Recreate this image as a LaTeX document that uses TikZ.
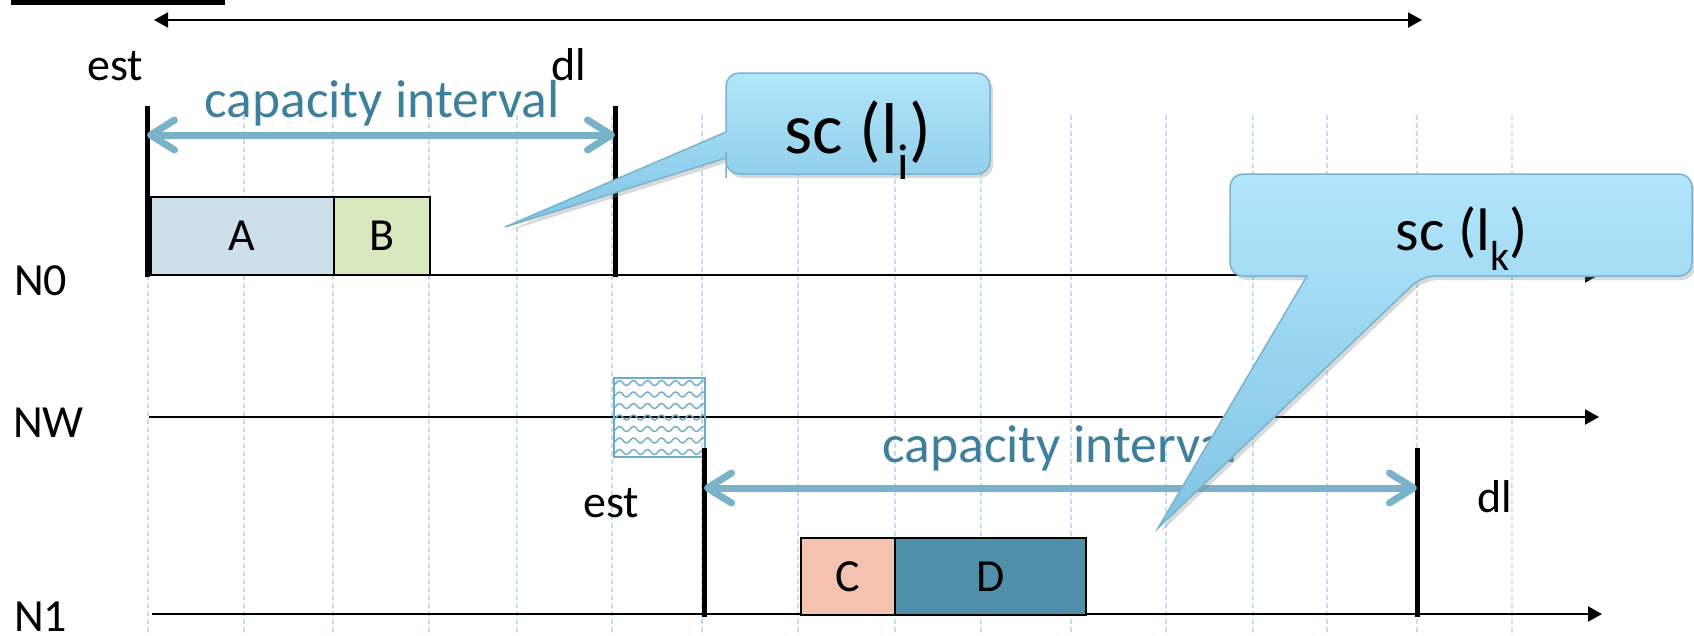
\documentclass[tikz,border=0pt]{standalone}
\usepackage{fontspec}
\setmainfont{Carlito}
\usepackage{tikz}
\usetikzlibrary{arrows.meta, shadows}
\definecolor{CapBlue}{RGB}{120,179,201}
\definecolor{CapText}{RGB}{62,128,156}
\definecolor{GridBlue}{RGB}{189,225,248}
\definecolor{CallTop}{RGB}{178,230,252}
\definecolor{CallBot}{RGB}{128,196,226}
\definecolor{CallEdge}{RGB}{120,180,204}
\definecolor{WaveBlue}{RGB}{110,172,198}
\definecolor{BoxA}{RGB}{205,224,234}
\definecolor{BoxB}{RGB}{216,232,190}
\definecolor{BoxC}{RGB}{244,194,174}
\definecolor{BoxD}{RGB}{80,143,170}

\begin{document}
\begin{tikzpicture}[x=1pt, y=-1pt,
	lbl/.style={inner sep=0pt, anchor=base, font=\fontsize{46}{50}\selectfont},
	captext/.style={inner sep=0pt, anchor=base, text=CapText, font=\fontsize{53.5}{58}\selectfont},
	gridline/.style={GridBlue, line width=1.3pt, dash pattern=on 5pt off 3pt},
	timeline/.style={line width=2pt, -{Triangle[length=14pt,width=15pt]}},
	limbar/.style={line width=5pt},
	caparrow/.style={CapBlue, line width=7pt, {Straight Barb[length=24pt,width=30pt,round]}-{Straight Barb[length=24pt,width=30pt,round]}},
	task/.style={draw=black, line width=1.5pt, inner sep=0pt, anchor=north west, font=\fontsize{46}{50}\selectfont},
	bubble/.style={draw=CallEdge, line width=1.5pt, top color=CallTop, bottom color=CallBot, drop shadow={opacity=0.3, shadow xshift=3pt, shadow yshift=-4pt}},
	bubbletext/.style={inner sep=0pt, anchor=base}
	]
	\useasboundingbox (0,0) rectangle (1694,635);
	
	% 网格线
	\foreach \gx in {148,244,333,429,517,612,702,798,895,981,1071,1166,1253,1327,1417,1512}
		\draw[gridline] (\gx,115) -- (\gx,635);
	
	% 顶部
	\fill (11,0) rectangle (225,5);
	\coordinate (TL) at (154,20);
	\coordinate (TR) at (1422,20);
	\draw[line width=2pt, {Triangle[length=14pt,width=15pt]}-{Triangle[length=14pt,width=15pt]}] (TL) -- (TR);
	
	% 时间轴
	\coordinate (N0s) at (147,275);
	\coordinate (N0e) at (1599,275);
	\coordinate (NWs) at (149,417);
	\coordinate (NWe) at (1599,417);
	\coordinate (N1s) at (152,614);
	\coordinate (N1e) at (1602,614);
	\draw[timeline] (N0s) -- (N0e);
	\draw[timeline] (NWs) -- (NWe);
	\draw[timeline] (N1s) -- (N1e);
	
	\node[lbl, anchor=base west] (n0) at (14,295) {N0};
	\node[lbl, anchor=base west] (nw) at (13,437) {NW};
	\node[lbl, anchor=base west] (n1) at (14,631) {N1};
	
	% 任务
	\node[task, fill=BoxA, minimum width=183pt, minimum height=78pt] (A) at (150,196) {A};
	\node[task, fill=BoxB, minimum width=96pt, minimum height=78pt] (B) at (333,196) {B};
	\node[task, fill=BoxC, minimum width=94pt, minimum height=77pt] (C) at (800,537) {C};
	\node[task, fill=BoxD, minimum width=191pt, minimum height=77pt] (D) at (894,537) {D};
	
	% 网络占用
	\begin{scope}
		\clip (614,378) rectangle (705,457);
		\foreach \r in {0,...,6}
			\draw[WaveBlue, line width=1.4pt] plot[domain=-5:95, samples=80, smooth] ({609+\x}, {383+\r*11.5+2.5*sin(\x*25.714)});
	\end{scope}
	\draw[WaveBlue, line width=1.3pt] (614,378) rectangle (705,457);
	
	% est 和 dl
	\coordinate (E0a) at (147,106);
	\coordinate (E0b) at (147,277);
	\coordinate (D0a) at (615,106);
	\coordinate (D0b) at (615,277);
	\coordinate (E1a) at (704,448);
	\coordinate (E1b) at (704,617);
	\coordinate (D1a) at (1417,448);
	\coordinate (D1b) at (1417,617);
	\draw[limbar] (E0a) -- (E0b);
	\draw[limbar] (D0a) -- (D0b);
	\draw[limbar] (E1a) -- (E1b);
	\draw[limbar] (D1a) -- (D1b);
	
	\node[lbl] (est0) at (115,80) {est};
	\node[lbl] (dl0) at (569,80) {dl};
	\node[lbl] (est1) at (611,517) {est};
	\node[lbl] (dl1) at (1495,512) {dl};
	
	% capacity interval
	\coordinate (C0a) at (147,135);
	\coordinate (C0b) at (615,135);
	\coordinate (C1a) at (704,488);
	\coordinate (C1b) at (1417,488);
	\draw[caparrow] (C0a) -- (C0b);
	\draw[caparrow] (C1a) -- (C1b);
	\node[captext] (ci0) at (382,117) {capacity interval};
	\node[captext] (ci1) at (1060,462) {capacity interval};
	
	% 标注框
	\draw[bubble, rounded corners=13pt] (726,110) |- (990,73) |- (726,174) -- (726,165) [sharp corners] -- (726,158) -- (505,227) -- (726,132) -- (726,120) -- cycle;
	\node[bubbletext, font=\fontsize{72}{76}\selectfont] (sci) at (858,153) {sc (l\textsubscript{i})};
	
	\draw[bubble, rounded corners=13pt] (1230,225) |- (1692,174) |- (1422,276) [sharp corners] -- (1158,528) -- (1307,276) -- (1250,276) [rounded corners=13pt] -- (1230,276) -- (1230,225) -- cycle;
	\node[bubbletext, font=\fontsize{60}{64}\selectfont] (sck) at (1462,250) {sc (l\textsubscript{k})};
\end{tikzpicture}
\end{document}
